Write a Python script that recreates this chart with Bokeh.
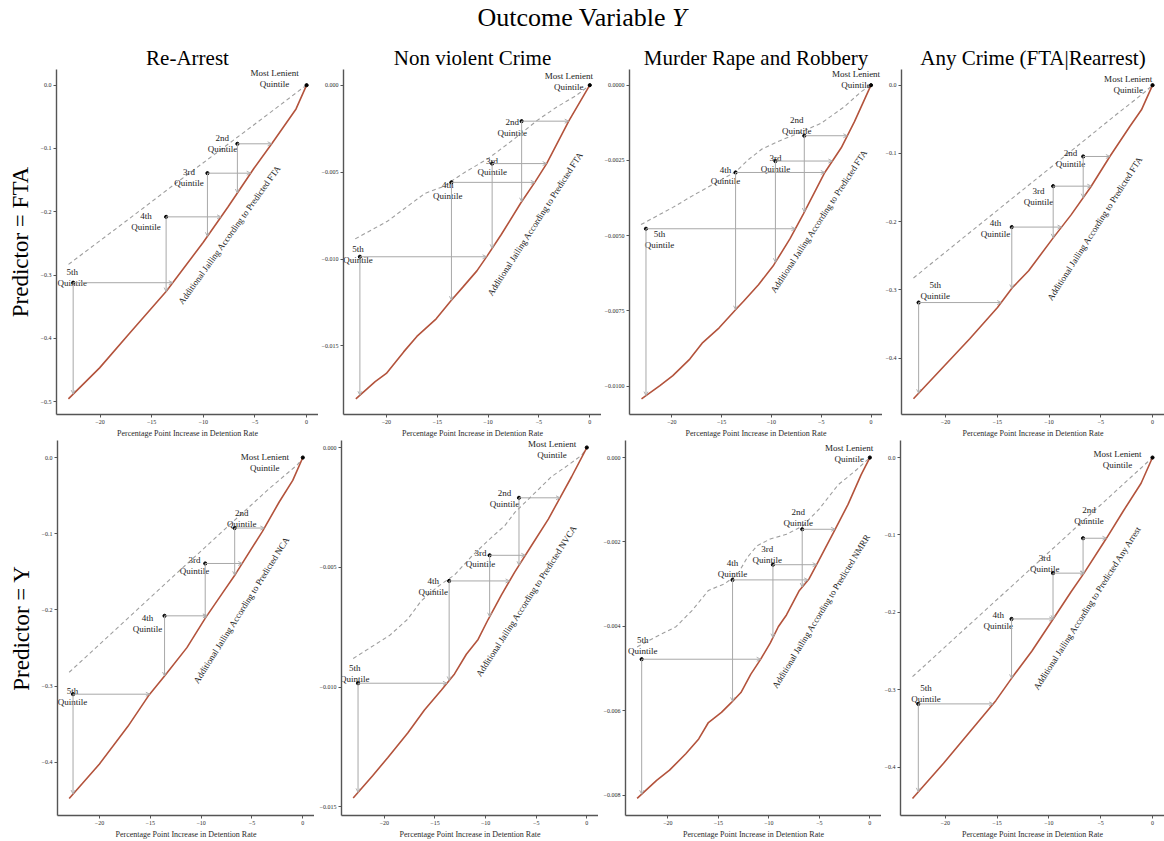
import numpy as np
from bokeh.plotting import figure
from bokeh.layouts import column, row
from bokeh.models import (Range1d, FixedTicker, CustomJSTickFormatter, Arrow, OpenHead,
                          ColumnDataSource, Title, Div)
from bokeh.core.properties import value
from bokeh.embed import file_html
from bokeh.resources import INLINE

SERIF = "Liberation Serif"
RED = "#b3533c"
DASH = "#9e9e9e"
GRAY = "#a8a8a8"

# ---------------- data ----------------
MAIN_TITLE = 'Outcome Variable <i>Y</i>'
COL_TITLES = ["Re-Arrest", "Non violent Crime", "Murder Rape and Robbery", "Any Crime (FTA|Rearrest)"]
ROW_TITLES = ["Predictor = FTA", "Predictor = Y"]
X_LABEL = "Percentage Point Increase in Detention Rate"
QUINTILE_NAMES = ["Most Lenient\nQuintile", "2nd\nQuintile", "3rd\nQuintile", "4th\nQuintile", "5th\nQuintile"]
QUINTILE_X = [-6.7, -9.6, -13.6, -22.6]
X_TICKS = [-20, -15, -10, -5, 0]

# Row 1: predictor = FTA
RA_FTA_RED_X = [-23.06, -20.04, -17.18, -13.58, -10.02, -7.63, -5.09, -3.34, -1.02, 0]
RA_FTA_RED_Y = [-0.4954, -0.4465, -0.3925, -0.3256, -0.2485, -0.1929, -0.1312, -0.0916, -0.0375, 0]
RA_FTA_DASH_X = [-23.05, -17.5, -12.5, -7.5, -3.5, -1, 0]
RA_FTA_DASH_Y = [-0.283, -0.215, -0.153, -0.092, -0.043, -0.012, 0]
RA_FTA_Q_Y = [-0.0926, -0.139, -0.208, -0.312]
RA_FTA_TICKS = [-0.5, -0.4, -0.3, -0.2, -0.1, 0.0]

NV_FTA_RED_X = [-23.0, -21.1, -20.0, -18.3, -17.0, -15.1, -13.65, -12.5, -11.1, -10.1, -8.7, -6.8, -5.36, -4.24, -2.07, 0]
NV_FTA_RED_Y = [-0.01804, -0.01705, -0.01658, -0.01534, -0.01445, -0.01344, -0.01240, -0.01163, -0.01068, -0.00983,
                -0.00859, -0.00679, -0.00555, -0.00451, -0.00207, 0]
NV_FTA_DASH_X = [-23.06, -19.9, -16.2, -14.45, -12.2, -9.98, -7.4, -5.2, -3.28, -1.37, 0]
NV_FTA_DASH_Y = [-0.00884, -0.00783, -0.00622, -0.00584, -0.00498, -0.00422, -0.00308, -0.00204, -0.00127, -0.00061, 0]
NV_FTA_Q_Y = [-0.00207, -0.00451, -0.00559, -0.00987]
NV_FTA_TICKS = [-0.015, -0.010, -0.005, 0.0]

MR_FTA_RED_X = [-23.05, -21.2, -19.9, -18.2, -16.9, -15.25, -13.6, -12.8, -11.3, -9.78, -8.13, -6.8, -4.64, -2.99, -1.66, 0]
MR_FTA_RED_Y = [-0.01042, -0.00998, -0.00965, -0.00910, -0.00855, -0.00806, -0.00746, -0.00718, -0.00663, -0.00598,
                -0.00510, -0.00428, -0.00290, -0.00208, -0.00121, 0]
MR_FTA_DASH_X = [-23.1, -19.9, -17.9, -15.25, -13.6, -12.3, -10.95, -9.27, -7.6, -4.98, -2.66, -1.0, 0]
MR_FTA_DASH_Y = [-0.00463, -0.00406, -0.00367, -0.00318, -0.00288, -0.00247, -0.00212, -0.00186, -0.00164, -0.00126,
                 -0.00071, -0.00022, 0]
MR_FTA_Q_Y = [-0.00168, -0.00252, -0.00290, -0.00477]
MR_FTA_TICKS = [-0.0100, -0.0075, -0.0050, -0.0025, 0.0]

AC_FTA_RED_X = [-23.1, -20.2, -17.66, -14.98, -13.55, -11.97, -9.6, -7.87, -5.97, -4.08, -2.18, -1.07, 0]
AC_FTA_RED_Y = [-0.4597, -0.4126, -0.3717, -0.3259, -0.2970, -0.2720, -0.2238, -0.1901, -0.1492, -0.1035, -0.0602, -0.0361, 0]
AC_FTA_DASH_X = [-23.1, -17.5, -12.5, -7.5, -3.5, -0.9, 0]
AC_FTA_DASH_Y = [-0.2826, -0.214, -0.153, -0.092, -0.043, -0.012, 0]
AC_FTA_Q_Y = [-0.1045, -0.148, -0.208, -0.3186]
AC_FTA_TICKS = [-0.4, -0.3, -0.2, -0.1, 0.0]

# Row 2: predictor = Y
RA_Y_RED_X = [-22.98, -20.0, -17.2, -15.2, -13.56, -11.4, -9.59, -7.94, -6.61, -3.97, -2.31, -0.99, 0]
RA_Y_RED_Y = [-0.4473, -0.402, -0.3527, -0.313, -0.286, -0.2494, -0.2107, -0.1785, -0.1527, -0.0968, -0.058, -0.030, 0]
RA_Y_DASH_X = [-22.98, -17.5, -12.5, -7.5, -3.5, -0.5, 0]
RA_Y_DASH_Y = [-0.2817, -0.2145, -0.153, -0.092, -0.043, -0.009, 0]
RA_Y_Q_Y = [-0.0925, -0.139, -0.2077, -0.3105]
RA_Y_TICKS = [-0.4, -0.3, -0.2, -0.1, 0.0]

NV_Y_RED_X = [-23.08, -21.16, -19.67, -17.69, -16.04, -14.38, -13.07, -11.9, -10.74, -9.75, -8.43, -7.11, -5.46, -3.8,
              -2.65, -1.49, 0]
NV_Y_RED_Y = [-0.01463, -0.01370, -0.01295, -0.01192, -0.01096, -0.01013, -0.00945, -0.00863, -0.00801, -0.00718,
              -0.00615, -0.00519, -0.00409, -0.00299, -0.00210, -0.00121, 0]
NV_Y_DASH_X = [-23.08, -21.3, -19.5, -17.7, -16.37, -14.71, -13.07, -11.41, -9.75, -8.1, -7.11, -5.46, -3.47, -1.82, -0.5, 0]
NV_Y_DASH_Y = [-0.00881, -0.00833, -0.00785, -0.00717, -0.00641, -0.00580, -0.00532, -0.00456, -0.00388, -0.00326,
               -0.00271, -0.00203, -0.00121, -0.00073, -0.00032, 0]
NV_Y_Q_Y = [-0.0021, -0.0045, -0.00557, -0.00984]
NV_Y_TICKS = [-0.015, -0.010, -0.005, 0.0]

MR_Y_RED_X = [-23.05, -21.12, -19.84, -18.23, -16.95, -15.99, -14.7, -13.73, -12.77, -11.8, -10.84, -9.87, -9.07, -8.26,
              -6.98, -6.01, -5.05, -3.44, -2.16, -0.87, 0]
MR_Y_RED_Y = [-0.00808, -0.00765, -0.00741, -0.00702, -0.00667, -0.00628, -0.00604, -0.00581, -0.00557, -0.00514,
              -0.00479, -0.00440, -0.00401, -0.00373, -0.00315, -0.00287, -0.00244, -0.00170, -0.00111, -0.00041, 0]
MR_Y_DASH_X = [-23.05, -21.12, -19.2, -17.59, -15.99, -14.37, -13.08, -12.12, -11.16, -9.87, -8.26, -6.65, -5.05, -3.12, -1.51, 0]
MR_Y_DASH_Y = [-0.00449, -0.00424, -0.00401, -0.00362, -0.00315, -0.00299, -0.00276, -0.00236, -0.00209, -0.00193,
               -0.00182, -0.00162, -0.00123, -0.00064, -0.00033, 0]
MR_Y_Q_Y = [-0.0017, -0.00254, -0.0029, -0.00478]
MR_Y_TICKS = [-0.008, -0.006, -0.004, -0.002, 0.0]

AC_Y_RED_X = [-23.16, -20.16, -17.64, -15.12, -13.55, -11.65, -9.6, -7.87, -6.61, -4.4, -2.83, -1.1, 0]
AC_Y_RED_Y = [-0.4406, -0.395, -0.3546, -0.3142, -0.2844, -0.2503, -0.209, -0.1737, -0.1494, -0.1034, -0.0694, -0.0332, 0]
AC_Y_DASH_X = [-23.16, -17.5, -12.5, -7.5, -3.5, -0.5, 0]
AC_Y_DASH_Y = [-0.2832, -0.214, -0.153, -0.0917, -0.0428, -0.0061, 0]
AC_Y_Q_Y = [-0.1043, -0.1494, -0.2086, -0.3184]
AC_Y_TICKS = [-0.4, -0.3, -0.2, -0.1, 0.0]

CURVE_LABELS = ["Additional Jailing According to Predicted FTA"] * 4 + [
    "Additional Jailing According to Predicted NCA",
    "Additional Jailing According to Predicted NVCA",
    "Additional Jailing According to Predicted NMRR",
    "Additional Jailing According to Predicted Any Arrest"]

PANELS = [
    (RA_FTA_RED_X, RA_FTA_RED_Y, RA_FTA_DASH_X, RA_FTA_DASH_Y, RA_FTA_Q_Y, RA_FTA_TICKS, 1),
    (NV_FTA_RED_X, NV_FTA_RED_Y, NV_FTA_DASH_X, NV_FTA_DASH_Y, NV_FTA_Q_Y, NV_FTA_TICKS, 3),
    (MR_FTA_RED_X, MR_FTA_RED_Y, MR_FTA_DASH_X, MR_FTA_DASH_Y, MR_FTA_Q_Y, MR_FTA_TICKS, 4),
    (AC_FTA_RED_X, AC_FTA_RED_Y, AC_FTA_DASH_X, AC_FTA_DASH_Y, AC_FTA_Q_Y, AC_FTA_TICKS, 1),
    (RA_Y_RED_X, RA_Y_RED_Y, RA_Y_DASH_X, RA_Y_DASH_Y, RA_Y_Q_Y, RA_Y_TICKS, 1),
    (NV_Y_RED_X, NV_Y_RED_Y, NV_Y_DASH_X, NV_Y_DASH_Y, NV_Y_Q_Y, NV_Y_TICKS, 3),
    (MR_Y_RED_X, MR_Y_RED_Y, MR_Y_DASH_X, MR_Y_DASH_Y, MR_Y_Q_Y, MR_Y_TICKS, 3),
    (AC_Y_RED_X, AC_Y_RED_Y, AC_Y_DASH_X, AC_Y_DASH_Y, AC_Y_Q_Y, AC_Y_TICKS, 1),
]

# ---------------- layout / annotation placement ----------------
# quintile label offsets in screen px (Most Lenient, 2nd, 3rd, 4th, 5th)
LABEL_OFFSETS = [
    [(-32, -7), (-15, 0), (-18.5, 4.7), (-20, 5), (-1, -5)],
    [(-21, -4), (-9.4, 6.4), (0, 2.5), (-3.7, 8.5), (-2, -2.7)],
    [(-15, -5.7), (-7.6, -10.2), (0, 2.3), (-10.2, 3.4), (13.5, 10.8)],
    [(-24.3, -0.7), (-12.7, 2.4), (-14.7, 10.6), (-16.3, 1), (16.6, -12)],
    [(-38, 5.3), (7, -9.8), (-10.7, 2.2), (-17, 7.8), (-0.6, 2.7)],
    [(-34.7, 2.2), (-14.6, 0.5), (-9.1, 3.3), (-16, 5.5), (-3.4, -10)],
    [(-20.7, -4.3), (-4, -12.2), (-5.7, -10.5), (0, -11.4), (1, -13.9)],
    [(-35, 2), (6, -22.7), (-8.3, -9.8), (-13.3, 1.4), (7.7, -10)],
]
# rotated curve label anchor (data coords) and angle (deg)
CURVE_LABEL_POS = [(-7.44, -0.236, 54.3), (-5.36, -0.00797, 57.3), (-5.22, -0.00452, 56.8), (-5.57, -0.210, 57.4),
                   (-6.03, -0.200, 57.7), (-5.95, -0.0064, 57.2), (-4.81, -0.00364, 58.5), (-6.27, -0.1939, 57.5)]
# fraction of data span added above the data (others 5%)
TOP_PAD = [0.05, 0.05, 0.05, 0.05, 0.05, 0.02, 0.05, 0.05]

ROW1_W = [318, 283, 281, 282]
ROW1_BL = [56, 20, 26, 16]
ROW1_BT = [27, 33, 33, 33]
TITLE_OFFSET = [0, 9, -12, 0]
ROW2_W = [314, 284, 283, 283]
ROW2_BL = [57, 27, 27, 15]


def axis_formatter(dec):
    return CustomJSTickFormatter(args=dict(d=dec),
                                 code="return tick.toFixed(d).replace('-', '\u2212');")


def make_panel(i, width, height, bl, bt, bb, title=None, row_label=None, title_offset=0):
    red_x, red_y, dash_x, dash_y, q_y, yticks, ydec = PANELS[i]
    xs = np.array(red_x + dash_x)
    ys = np.array(red_y + dash_y)
    xpad = 0.05 * (xs.max() - xs.min())
    yspan = ys.max() - ys.min()
    p = figure(width=width, height=height, output_backend="svg", toolbar_location=None,
               x_range=Range1d(xs.min() - xpad, xs.max() + xpad),
               y_range=Range1d(ys.min() - 0.05 * yspan, ys.max() + TOP_PAD[i] * yspan),
               min_border_left=bl, min_border_right=0, min_border_top=bt, min_border_bottom=bb,
               title=title)
    p.outline_line_color = None
    p.grid.visible = False
    p.background_fill_color = "white"
    p.border_fill_color = "white"
    if title:
        p.title.align = "center"
        p.title.text_font = SERIF
        p.title.text_font_size = "21px"
        p.title.text_font_style = "normal"
        p.title.text_color = "black"
        p.title.standoff = 0
        p.title.text_line_height = 0.9
        p.title.offset = title_offset
    if row_label:
        p.add_layout(Title(text=row_label, align="center", text_font=SERIF, text_font_size="23px",
                           text_font_style="normal", text_color="black"), "left")

    for ax in (p.xaxis[0], p.yaxis[0]):
        ax.axis_line_color = "#555555"
        ax.axis_line_width = 1.4
        ax.major_tick_line_color = "#555555"
        ax.major_tick_out = 3
        ax.major_tick_in = 0
        ax.minor_tick_line_color = None
        ax.major_label_text_font = SERIF
        ax.major_label_text_font_size = "6px"
        ax.major_label_text_color = "#2a2a2a"
        ax.major_label_standoff = 2
    p.xaxis.ticker = FixedTicker(ticks=X_TICKS)
    p.xaxis.formatter = axis_formatter(0)
    p.yaxis.ticker = FixedTicker(ticks=yticks)
    p.yaxis.formatter = axis_formatter(ydec)
    p.xaxis.axis_label = X_LABEL
    p.xaxis.axis_label_text_font = SERIF
    p.xaxis.axis_label_text_font_size = "8px"
    p.xaxis.axis_label_text_font_style = "normal"
    p.xaxis.axis_label_text_color = "#2a2a2a"
    p.xaxis.axis_label_standoff = 2

    # dashed and red curves
    p.line(dash_x, dash_y, line_color=DASH, line_dash="4 3", line_width=1.1)
    p.line(red_x, red_y, line_color=RED, line_width=1.6)

    # quintile connectors
    rx = np.array(red_x)
    ry = np.array(red_y)
    x0, y0, x1, y1 = [], [], [], []
    for qx, qy in zip(QUINTILE_X, q_y):
        x0 += [qx, qx]
        y0 += [qy, qy]
        x1 += [float(np.interp(qy, ry, rx)), qx]
        y1 += [qy, float(np.interp(qx, rx, ry))]
    src = ColumnDataSource(dict(x0=x0, y0=y0, x1=x1, y1=y1))
    p.add_layout(Arrow(source=src, x_start="x0", y_start="y0", x_end="x1", y_end="y1",
                       line_color=GRAY, line_width=1.0,
                       end=OpenHead(size=4, line_color=GRAY, line_width=0.9)))

    # quintile points and labels
    px = [0.0] + QUINTILE_X
    py = [0.0] + q_y
    p.scatter(px, py, size=3.2, color="black")
    offs = LABEL_OFFSETS[i]
    lsrc = ColumnDataSource(dict(x=px, y=py, t=QUINTILE_NAMES,
                                 dx=[o[0] for o in offs], dy=[o[1] for o in offs]))
    p.text(x="x", y="y", text="t", x_offset="dx", y_offset="dy", source=lsrc,
           text_font=value(SERIF), text_font_size="9px", text_align="center",
           text_baseline="middle", text_line_height=1.1, text_color="#222222")

    cx, cy, ang = CURVE_LABEL_POS[i]
    p.text(x=[cx], y=[cy], text=[CURVE_LABELS[i]], angle=ang, angle_units="deg",
           text_font=value(SERIF), text_font_size="9px", text_align="center",
           text_baseline="middle", text_color="#222222")
    return p


row1 = []
for j in range(4):
    row1.append(make_panel(j, ROW1_W[j], 404, ROW1_BL[j], ROW1_BT[j], 24, title=COL_TITLES[j],
                           row_label=ROW_TITLES[0] if j == 0 else None, title_offset=TITLE_OFFSET[j]))
row2 = []
for j in range(4):
    row2.append(make_panel(4 + j, ROW2_W[j], 401, ROW2_BL[j], 0, 24,
                           row_label=ROW_TITLES[1] if j == 0 else None))

header = Div(text=MAIN_TITLE, width=1164, height=36, margin=(0, 0, 0, 0),
             styles={"text-align": "center", "font-family": SERIF, "font-size": "26px",
                     "line-height": "36px", "color": "black", "width": "1164px"})

layout = column(header, row(*row1, spacing=0), row(*row2, spacing=0), spacing=0)

open("out.html", "w").write(file_html(layout, INLINE))
